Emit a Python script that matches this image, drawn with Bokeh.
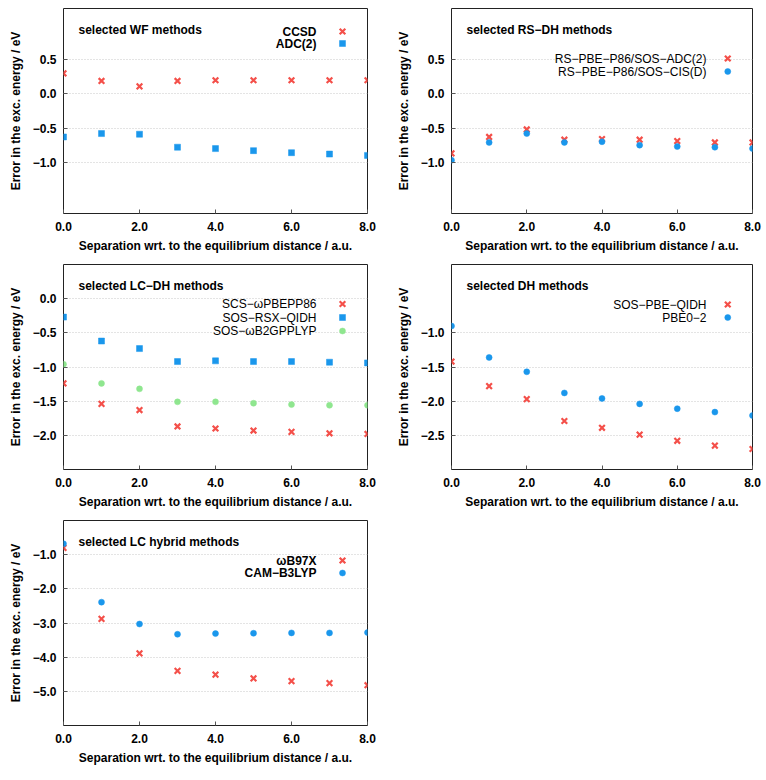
from bokeh.plotting import figure
from bokeh.models import Label, FixedTicker, CustomJSTickFormatter, Range1d
from bokeh.layouts import column, row
from bokeh.embed import file_html
from bokeh.resources import INLINE

# ---------------- data ----------------
sep = [0, 1, 2, 3, 4, 5, 6, 7, 8]
x_ticks = [0, 2, 4, 6, 8]

ccsd = [0.30, 0.19, 0.11, 0.19, 0.20, 0.20, 0.20, 0.20, 0.20]
adc2 = [-0.63, -0.58, -0.59, -0.78, -0.80, -0.83, -0.86, -0.88, -0.90]

rs_sos_adc2 = [-0.87, -0.63, -0.52, -0.67, -0.66, -0.67, -0.69, -0.71, -0.71]
rs_sos_cisd = [-0.97, -0.71, -0.58, -0.71, -0.70, -0.75, -0.77, -0.78, -0.80]

scs_wpbepp86 = [-1.24, -1.54, -1.63, -1.87, -1.90, -1.93, -1.95, -1.97, -1.98]
sos_rsx_qidh = [-0.27, -0.62, -0.73, -0.92, -0.91, -0.92, -0.92, -0.93, -0.94]
sos_wb2gpplyp = [-0.96, -1.24, -1.32, -1.51, -1.51, -1.53, -1.55, -1.56, -1.56]

sos_pbe_qidh = [-1.42, -1.78, -1.97, -2.29, -2.39, -2.49, -2.58, -2.65, -2.70]
pbe0_2 = [-0.90, -1.36, -1.57, -1.88, -1.96, -2.04, -2.11, -2.16, -2.21]

wb97x = [-0.80, -2.88, -3.89, -4.40, -4.51, -4.62, -4.70, -4.76, -4.82]
cam_b3lyp = [-0.68, -2.39, -3.03, -3.33, -3.31, -3.30, -3.29, -3.29, -3.28]

y_ticks_wf = [-1.0, -0.5, 0.0, 0.5]
y_ticks_rs = [-1.0, -0.5, 0.0, 0.5]
y_ticks_lcdh = [-2.0, -1.5, -1.0, -0.5, 0.0]
y_ticks_dh = [-2.5, -2.0, -1.5, -1.0]
y_ticks_lch = [-5.0, -4.0, -3.0, -2.0, -1.0]

RED = "#f4504a"
BLUE = "#1a97ec"
GREEN = "#8fe68f"
FONT = "Liberation Sans"

FRAME_W = 304
FRAME_H = 205


def make_panel(title, y_range, y_ticks, series, width, left_border, right_border,
               top_border, leg_right, leg_marker, leg_top, leg_step, leg_bold):
    height = top_border + FRAME_H + 50
    p = figure(width=width, height=height, output_backend="svg",
               toolbar_location=None, x_range=Range1d(0, 8),
               y_range=Range1d(*y_range),
               min_border_left=left_border, min_border_right=right_border,
               min_border_top=top_border, min_border_bottom=50)
    p.background_fill_color = "white"
    p.border_fill_color = "white"
    p.outline_line_color = "#222222"
    p.outline_line_width = 1
    p.outline_line_alpha = 1

    p.xgrid.visible = False
    p.ygrid.grid_line_color = "#c8c8c8"
    p.ygrid.grid_line_dash = "1 2"
    p.ygrid.grid_line_width = 1
    p.ygrid.ticker = FixedTicker(ticks=y_ticks)

    fmt = CustomJSTickFormatter(code="return tick.toFixed(1).replace('-', '\u2212');")
    for ax in (p.xaxis[0], p.yaxis[0]):
        ax.axis_line_color = None
        ax.major_tick_in = 4
        ax.major_tick_out = 0
        ax.minor_tick_in = 0
        ax.minor_tick_out = 0
        ax.major_tick_line_color = "#555555"
        ax.major_label_text_font = FONT
        ax.major_label_text_font_style = "bold"
        ax.major_label_text_font_size = "12px"
        ax.major_label_text_color = "black"
        ax.axis_label_text_font = FONT
        ax.axis_label_text_font_style = "bold"
        ax.axis_label_text_font_size = "12px"
        ax.axis_label_text_color = "black"
        ax.formatter = fmt
    p.xaxis[0].ticker = FixedTicker(ticks=x_ticks)
    p.yaxis[0].ticker = FixedTicker(ticks=y_ticks)
    p.xaxis[0].axis_label = "Separation wrt. to the equilibrium distance / a.u."
    p.yaxis[0].axis_label = "Error in the exc. energy / eV"
    p.xaxis[0].major_label_standoff = 8
    p.xaxis[0].axis_label_standoff = 5
    p.yaxis[0].major_label_standoff = 7
    p.yaxis[0].axis_label_standoff = 7

    y0, y1 = y_range
    for i, (name, vals, marker, color) in enumerate(series):
        kw = dict(marker=marker, color=color)
        if marker == "x":
            kw.update(size=8, line_width=2.2)
        else:
            kw.update(size=6, line_width=0.5)
        p.scatter(sep, vals, **kw)
        # legend entry
        dy = leg_top + i * leg_step
        p.add_layout(Label(x=FRAME_W - leg_right, y=FRAME_H - dy,
                           x_units="screen", y_units="screen", text=name,
                           text_align="right", text_baseline="middle",
                           text_font=FONT, text_font_size="12px",
                           text_font_style="bold" if leg_bold else "normal",
                           text_color="black"))
        lx = 8 - leg_marker / FRAME_W * 8
        ly = y1 - dy / FRAME_H * (y1 - y0)
        p.scatter([lx], [ly], **kw)

    p.add_layout(Label(x=15, y=FRAME_H - 21, x_units="screen", y_units="screen",
                       text=title, text_align="left", text_baseline="middle",
                       text_font=FONT, text_font_size="12px",
                       text_font_style="bold", text_color="black"))
    return p


LW, RW = 393, 373
p1 = make_panel("selected WF methods", (-1.75, 1.25), y_ticks_wf,
                [("CCSD", ccsd, "x", RED), ("ADC(2)", adc2, "square", BLUE)],
                LW, 63, 26, 8, 51, 25, 23, 12, True)
p2 = make_panel("selected RS\u2212DH methods", (-1.75, 1.25), y_ticks_rs,
                [("RS\u2212PBE\u2212P86/SOS\u2212ADC(2)", rs_sos_adc2, "x", RED),
                 ("RS\u2212PBE\u2212P86/SOS\u2212CIS(D)", rs_sos_cisd, "circle", BLUE)],
                RW, 55, 14, 8, 49, 25, 50, 13, False)
p3 = make_panel("selected LC\u2212DH methods", (-2.5, 0.5), y_ticks_lcdh,
                [("SCS\u2212\u03c9PBEPP86", scs_wpbepp86, "x", RED),
                 ("SOS\u2212RSX\u2212QIDH", sos_rsx_qidh, "square", BLUE),
                 ("SOS\u2212\u03c9B2GPPLYP", sos_wb2gpplyp, "circle", GREEN)],
                LW, 63, 26, 1, 51, 25, 39.5, 13.5, False)
p4 = make_panel("selected DH methods", (-3.0, 0.0), y_ticks_dh,
                [("SOS\u2212PBE\u2212QIDH", sos_pbe_qidh, "x", RED),
                 ("PBE0\u22122", pbe0_2, "circle", BLUE)],
                RW, 55, 14, 1, 49, 25, 40, 13, False)
p5 = make_panel("selected LC hybrid methods", (-6.0, 0.0), y_ticks_lch,
                [("\u03c9B97X", wb97x, "x", RED),
                 ("CAM\u2212B3LYP", cam_b3lyp, "circle", BLUE)],
                LW, 63, 26, 1, 51, 25, 40, 12.5, True)

layout = column(row(p1, p2), row(p3, p4), p5)
open("out.html", "w").write(file_html(layout, INLINE))
